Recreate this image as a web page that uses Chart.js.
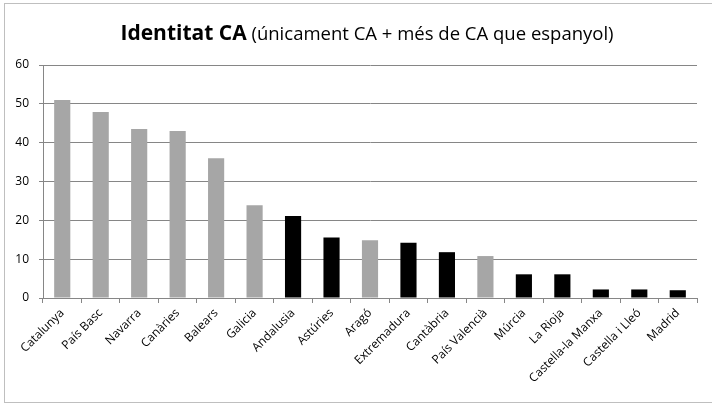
<!DOCTYPE html>
<html>
<head>
<meta charset="utf-8">
<script src="https://cdn.jsdelivr.net/npm/chart.js@4"></script>
<style>
  html, body { margin: 0; padding: 0; background: #fff; overflow: hidden; }
  #frame { position: absolute; left: 4px; top: 3px; width: 720px; height: 398px; border: 1px solid #bfbfbf; }
  canvas { display: block; }
</style>
</head>
<body>
<div id="frame"><canvas id="chart" width="712" height="398"></canvas></div>
<script>
// data
var regions = ['Catalunya', 'País Basc', 'Navarra', 'Canàries', 'Balears', 'Galicia', 'Andalusia', 'Astúries',
  'Aragó', 'Extremadura', 'Cantàbria', 'País Valencià', 'Múrcia', 'La Rioja', 'Castella-la Manxa',
  'Castella i Lleó', 'Madrid'];
var identitat = [51.0, 47.9, 43.5, 43.0, 36.0, 23.9, 21.1, 15.6, 14.9, 14.2, 11.8, 10.8, 6.1, 6.1, 2.2, 2.2, 2.0];
var darkRegions = ['Andalusia', 'Astúries', 'Extremadura', 'Cantàbria', 'Múrcia', 'La Rioja',
  'Castella-la Manxa', 'Castella i Lleó', 'Madrid'];
var yTicks = [0, 10, 20, 30, 40, 50, 60];

var titleBold = 'Identitat CA';
var titleRest = ' (únicament CA + més de CA que espanyol)';

var gridColor = '#868686';

// title mixes bold and normal text, so it is drawn by hand
var titlePlugin = {
    id: 'mixedTitle',
    afterDraw: function(chart) {
        var ctx = chart.ctx;
        ctx.save();
        var boldFont = 'bold 21px "Open Sans", sans-serif';
        var restFont = '18.5px "Open Sans", sans-serif';
        ctx.font = boldFont;
        var w1 = ctx.measureText(titleBold).width;
        ctx.font = restFont;
        var w2 = ctx.measureText(titleRest).width;
        var x = 362 - (w1 + w2) / 2;
        var y = 36;
        ctx.fillStyle = '#000';
        ctx.textBaseline = 'alphabetic';
        ctx.font = boldFont;
        ctx.fillText(titleBold, x, y);
        ctx.font = restFont;
        ctx.fillText(titleRest, x + w1, y);
        ctx.restore();
    }
};

new Chart(document.getElementById('chart'), {
    type: 'bar',
    data: {
        labels: regions,
        datasets: [{
            data: identitat,
            backgroundColor: regions.map(function(r) {
                return darkRegions.indexOf(r) >= 0 ? '#000000' : '#a6a6a6';
            }),
            borderWidth: 0,
            barPercentage: 0.42,
            categoryPercentage: 1
        }]
    },
    options: {
        responsive: false,
        animation: false,
        layout: { padding: { left: 0, right: 20, top: 61, bottom: 0 } },
        plugins: {
            legend: { display: false },
            title: { display: false },
            tooltip: { enabled: false }
        },
        scales: {
            x: {
                afterFit: function(scale) { scale.height = 104; },
                grid: {
                    offset: true,
                    drawOnChartArea: false,
                    drawTicks: true,
                    tickLength: 5,
                    color: gridColor
                },
                border: { color: gridColor, width: 1 },
                ticks: {
                    minRotation: 45,
                    maxRotation: 45,
                    autoSkip: false,
                    padding: 3,
                    color: '#000',
                    font: { family: '"Open Sans", sans-serif', size: 12 }
                }
            },
            y: {
                min: 0,
                max: 60,
                afterFit: function(scale) { scale.width = 38; },
                afterBuildTicks: function(scale) {
                    scale.ticks = yTicks.map(function(v) { return { value: v }; });
                },
                grid: {
                    color: gridColor,
                    tickLength: 4,
                    drawTicks: true
                },
                border: { color: gridColor, width: 1 },
                ticks: {
                    padding: 10,
                    color: '#000',
                    font: { family: '"Open Sans", sans-serif', size: 12 }
                }
            }
        }
    },
    plugins: [titlePlugin]
});
</script>
</body>
</html>
